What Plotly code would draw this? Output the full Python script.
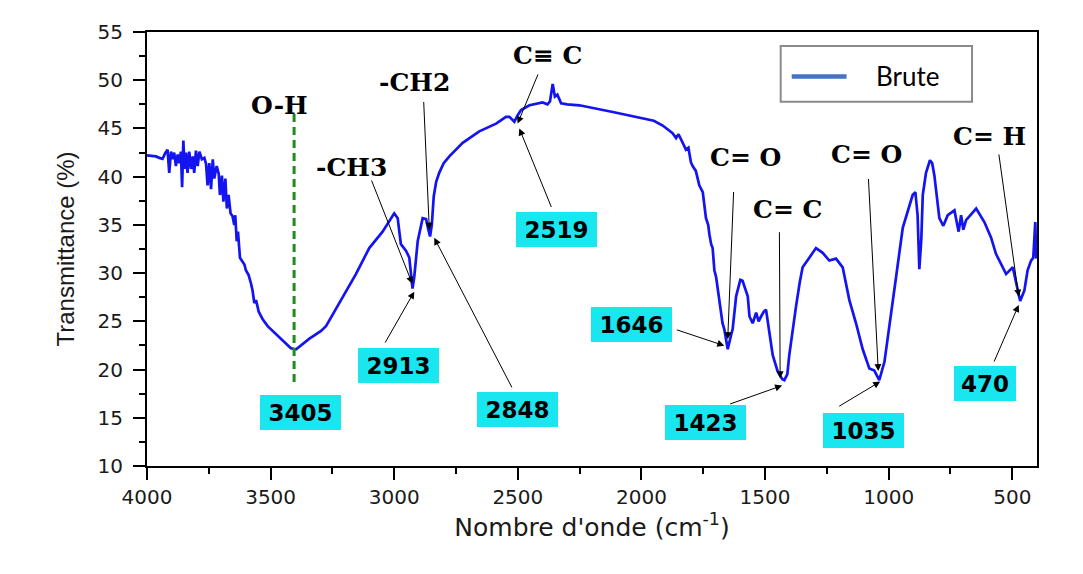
import plotly.graph_objects as go

# ---------------- data ----------------
wavenumber = [
    4000, 3964, 3950, 3937, 3926, 3917, 3910, 3903, 3896, 3890, 3883, 3876, 3869, 3863,
    3858, 3853, 3848, 3842, 3836, 3829, 3822, 3815, 3809, 3802, 3795, 3788, 3778, 3768,
    3761, 3755, 3748, 3741, 3734, 3728, 3718, 3710, 3705, 3697, 3691, 3683, 3677, 3670,
    3662, 3654, 3647, 3643, 3637, 3632, 3624, 3616, 3606, 3600, 3589, 3579, 3573, 3566,
    3559, 3548, 3532, 3512, 3492, 3465, 3438, 3418, 3397, 3377, 3343, 3296, 3276, 3249,
    3222, 3155, 3101, 3047, 3000, 2986, 2973, 2952, 2939, 2926, 2919, 2905, 2885, 2871,
    2862, 2855, 2848, 2840, 2830, 2818, 2800, 2777, 2723, 2656, 2588, 2548, 2534, 2514,
    2500, 2487, 2453, 2400, 2380, 2370, 2359, 2350, 2340, 2325, 2300, 2251, 2116, 1981,
    1950, 1914, 1890, 1874, 1860, 1850, 1833, 1820, 1810, 1800, 1793, 1780, 1766, 1752,
    1739, 1730, 1725, 1718, 1712, 1705, 1698, 1685, 1672, 1665, 1651, 1638, 1631, 1617,
    1611, 1600, 1591, 1577, 1570, 1563, 1550, 1536, 1526, 1516, 1505, 1496, 1489, 1483,
    1469, 1449, 1430, 1422, 1410, 1402, 1390, 1375, 1360, 1348, 1321, 1294, 1267, 1240,
    1213, 1186, 1159, 1132, 1105, 1078, 1058, 1045, 1038, 1017, 997, 970, 943, 916,
    903, 892, 883, 876, 868, 862, 849, 833, 824, 815, 795, 779, 761, 734,
    717, 707, 698, 687, 646, 613, 586, 566, 525, 498, 485, 468, 451, 438,
    424, 415, 407, 403,
]
transmittance = [
    42.2, 42.1, 41.95, 41.85, 42.46, 42.8, 40.4, 42.6, 41.8, 42.5, 41.1, 42.3, 41.4, 42.6,
    38.9, 43.75, 40.8, 42.5, 40.4, 42.6, 40.8, 42.1, 40.4, 42.7, 41.1, 42.6, 41.8, 41.95,
    41.3, 39.1, 41.4, 38.7, 41.8, 39.8, 41.1, 40.3, 38.1, 40.1, 37.4, 39.8, 36.7, 38.1,
    36.2, 35.9, 35.0, 36.0, 33.3, 34.3, 31.6, 31.3, 30.9, 30.3, 29.8, 28.9, 28.2, 26.9,
    27.2, 26.0, 25.2, 24.5, 24.0, 23.3, 22.6, 22.2, 22.1, 22.5, 23.2, 24.0, 24.5, 25.7,
    26.9, 29.9, 32.6, 34.3, 36.2, 35.7, 33.0, 32.3, 31.6, 28.4, 29.6, 33.3, 35.7, 35.6,
    34.5, 33.8, 35.0, 38.0, 39.5, 40.4, 41.4, 42.1, 43.5, 44.7, 45.5, 46.2, 46.2, 45.7,
    46.4, 46.9, 47.4, 47.7, 47.5, 47.8, 49.6, 48.3, 48.5, 47.6, 47.5, 47.4, 46.7, 46.0,
    45.8, 45.3, 44.8, 44.5, 44.0, 44.4, 43.5, 42.8, 43.0, 41.5, 41.1, 40.6, 39.1, 38.4,
    35.7, 35.0, 34.0, 33.0, 32.6, 30.3, 29.6, 26.9, 24.8, 24.2, 22.1, 23.5, 24.2, 27.6,
    28.2, 29.3, 29.2, 28.2, 27.6, 25.5, 24.8, 25.9, 25.0, 25.5, 26.0, 26.2, 25.0, 24.2,
    21.5, 19.8, 19.0, 18.9, 19.5, 21.5, 24.0, 26.5, 29.0, 30.6, 31.6, 32.6, 32.1, 31.3,
    31.5, 30.6, 27.2, 24.8, 22.1, 20.1, 19.9, 19.3, 18.9, 20.8, 24.8, 29.6, 34.7, 36.9,
    38.1, 38.4, 36.0, 30.4, 33.5, 38.1, 40.4, 41.7, 41.4, 40.1, 35.7, 34.9, 36.0, 36.5,
    34.3, 36.0, 34.5, 35.5, 36.7, 35.3, 33.7, 32.0, 29.9, 30.6, 29.2, 27.1, 28.2, 30.3,
    31.3, 31.6, 35.3, 31.5,
]
series_name = "Brute"
oh_band = 3405
oh_span = [46.5, 18.5]

# band labels (text) and peak values (boxes)
bond_texts = ["O-H", "-CH3", "-CH2", "C\u2261 C", "C= O", "C= C", "C= O", "C= H"]
peak_labels = ["3405", "2913", "2848", "2519", "1646", "1423", "1035", "470"]

x_ticks = [4000, 3500, 3000, 2500, 2000, 1500, 1000, 500]
y_ticks = [10, 15, 20, 25, 30, 35, 40, 45, 50, 55]

# ---------------- placement (layout only) ----------------
bond_pos = [(3465, 47.4), (3174, 41.0), (2919, 49.75), (2381, 52.6),
            (1580, 42.0), (1410, 36.6), (1090, 42.3), (593, 44.2)]
box_pos = [(3378, 15.55, 81), (2981, 20.4, 81), (2501, 15.9, 81), (2344, 34.55, 81),
           (2041, 24.7, 81), (1739.5, 14.5, 81), (1100, 13.7, 81), (609, 18.55, 62)]
# arrows: (tail_x, tail_y, tip_x, tip_y)
arrows = [
    (3094, 39.76, 2927, 28.9),
    (3040, 22.64, 2919, 28.07),
    (2881, 47.9, 2858, 34.5),
    (2521, 18.0, 2838, 33.66),
    (2416, 50.76, 2501, 45.5),
    (2362, 36.7, 2494, 45.0),
    (1627, 38.57, 1651, 23.15),
    (1863, 24.17, 1665, 22.48),
    (1442, 34.4, 1439, 19.09),
    (1647, 16.38, 1431, 18.34),
    (1082, 39.92, 1042, 19.84),
    (1206, 16.11, 1034, 18.75),
    (555, 42.46, 474, 27.56),
    (576, 20.68, 474, 26.7),
]

CYAN = "#1AE6F0"

fig = go.Figure()
fig.add_trace(go.Scatter(
    x=wavenumber, y=transmittance, mode="lines", name=series_name,
    line=dict(color="#1414F0", width=2.7), showlegend=False,
))
fig.add_trace(go.Scatter(
    x=[oh_band, oh_band], y=oh_span, mode="lines",
    line=dict(color="#1E8C1E", width=3, dash="8px,5px"), showlegend=False,
    hoverinfo="skip",
))

for t, (x, y) in zip(bond_texts, bond_pos):
    fig.add_annotation(x=x, y=y, text=f"<b>{t}</b>", showarrow=False,
                       font=dict(family="DejaVu Serif", size=25, color="black"))

for t, (x, y, w) in zip(peak_labels, box_pos):
    fig.add_annotation(x=x, y=y, text=f"<b>{t}</b>", showarrow=False,
                       bgcolor=CYAN, width=w, height=35, borderpad=0, borderwidth=0,
                       font=dict(family="DejaVu Sans", size=23, color="black"))

for (ax, ay, x, y) in arrows:
    fig.add_annotation(x=x, y=y, ax=ax, ay=ay, axref="x", ayref="y", text="",
                       showarrow=True, arrowhead=2, arrowsize=1.4, arrowwidth=1,
                       arrowcolor="black", standoff=0)

# legend box drawn in paper coordinates
fig.add_shape(type="rect", xref="paper", yref="paper", x0=0.712, x1=0.927, y0=0.839, y1=0.968,
              line=dict(color="#8A8A8A", width=2), fillcolor="white", layer="above")
fig.add_shape(type="line", xref="paper", yref="paper", x0=0.7244, x1=0.786, y0=0.8977, y1=0.8977,
              line=dict(color="#4472C4", width=4.5), layer="above")
fig.add_annotation(xref="paper", yref="paper", x=0.8169, y=0.8977, xanchor="left", yanchor="middle",
                   text=series_name, showarrow=False,
                   font=dict(family="Lato", size=26, color="black"))

axis_common = dict(
    showline=True, linewidth=2, linecolor="black", mirror=True,
    ticks="outside", ticklen=12, tickwidth=2, tickcolor="black",
    showgrid=False, zeroline=False,
    tickfont=dict(family="DejaVu Sans", size=20, color="#1a1a1a"),
)
fig.update_xaxes(
    range=[4000, 400], tickvals=x_ticks, ticktext=[str(v) for v in x_ticks],
    minor=dict(dtick=250, tick0=0, ticklen=6, tickwidth=2, tickcolor="black", ticks="outside"),
    title=dict(text="Nombre d'onde (cm<sup>-1</sup>)", standoff=0,
               font=dict(family="DejaVu Sans", size=25, color="#1a1a1a")),
    **axis_common,
)
fig.update_yaxes(
    range=[10, 55], tickvals=y_ticks, ticktext=[str(v) for v in y_ticks],
    minor=dict(dtick=2.5, tick0=0, ticklen=6, tickwidth=2, tickcolor="black", ticks="outside"),
    title=dict(text="Transmittance (%)", standoff=16,
               font=dict(family="Liberation Sans", size=24, color="#1a1a1a")),
    ticklabelstandoff=6,
    **axis_common,
)
# the page adds an 8px body margin, so the figure is 8px smaller and margins shifted
fig.update_layout(
    width=1075, height=566,
    margin=dict(l=139, r=46, t=15, b=108),
    plot_bgcolor="white", paper_bgcolor="white",
    showlegend=False,
)
fig.write_html("out.html")
